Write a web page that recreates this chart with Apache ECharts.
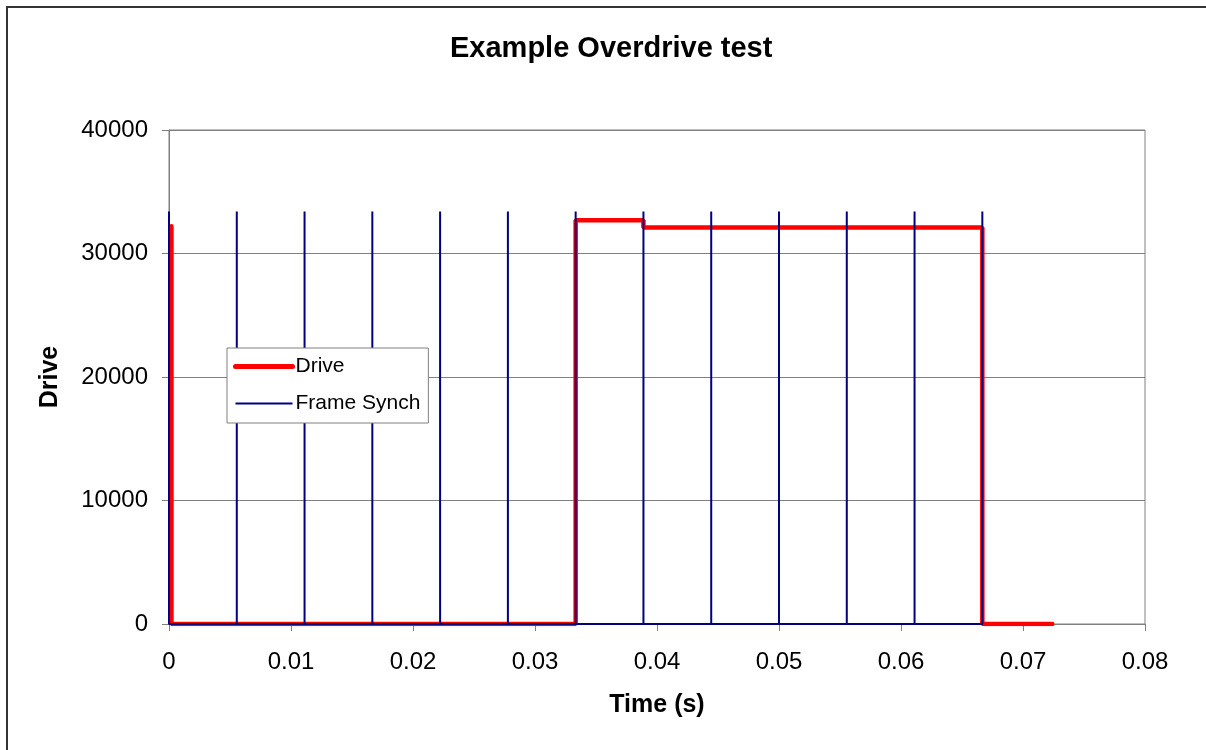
<!DOCTYPE html>
<html>
<head>
<meta charset="utf-8">
<script src="https://cdn.jsdelivr.net/npm/echarts@6/dist/echarts.min.js"></script>
<style>
  html, body { margin: 0; padding: 0; background: #fff; }
  #chart { width: 1206px; height: 750px; }
</style>
</head>
<body>
<div id="chart"></div>
<script>
// frame synch pulses, one per frame (180 Hz)
const frameTimes = [0, 0.005556, 0.011111, 0.016667, 0.022222, 0.027778, 0.033333,
  0.038889, 0.044444, 0.05, 0.055556, 0.061111, 0.066667]
const pulseHeight = 33400

// drive level steps
const driveTimes = [0.0002, 0.0002, 0.033333, 0.033333, 0.038889, 0.038889, 0.066667, 0.066667, 0.0724]
const driveValues = [32200, 0, 0, 32700, 32700, 32100, 32100, 0, 0]

const xTicks = [0, 0.01, 0.02, 0.03, 0.04, 0.05, 0.06, 0.07, 0.08]
const yTicks = [0, 10000, 20000, 30000, 40000]

const font = "'Liberation Sans', Arial, sans-serif"

const synchData = []
frameTimes.forEach(t => {
  synchData.push([t, 0], [t, pulseHeight], [t, 0])
})
const driveData = driveTimes.map((t, i) => [t, driveValues[i]])

const chart = echarts.init(document.getElementById('chart'))

chart.setOption({
  animation: false,
  backgroundColor: '#fff',
  title: {
    text: 'Example Overdrive test',
    left: 445,
    top: 29,
    textStyle: { fontFamily: font, fontSize: 29, fontWeight: 'bold', color: '#000' }
  },
  graphic: [{
    type: 'rect',
    shape: { x: 7, y: 7, width: 1400, height: 900 },
    style: { fill: 'none', stroke: '#333', lineWidth: 2 },
    silent: true
  }],
  legend: {
    orient: 'vertical',
    left: 227,
    top: 348,
    padding: [8, 8, 9, 6],
    itemWidth: 57,
    itemHeight: 14,
    itemGap: 16,
    backgroundColor: '#fff',
    borderColor: '#808080',
    borderWidth: 1,
    borderRadius: 0,
    itemStyle: { opacity: 0 },
    textStyle: { fontFamily: font, fontSize: 21, color: '#000', lineHeight: 21, padding: [0, 0, 0, -2] },
    data: [
      { name: 'Drive', lineStyle: { width: 5, cap: 'round' } },
      { name: 'Frame Synch', lineStyle: { width: 2 } }
    ]
  },
  grid: {
    left: 169,
    right: 61,
    top: 130,
    bottom: 126,
    show: true,
    borderColor: '#808080',
    borderWidth: 1
  },
  xAxis: {
    type: 'value',
    min: xTicks[0],
    max: xTicks[xTicks.length - 1],
    interval: 0.01,
    name: 'Time (s)',
    nameLocation: 'middle',
    nameGap: 69,
    nameTextStyle: { fontFamily: font, fontSize: 25, fontWeight: 'bold', color: '#000' },
    axisLine: { lineStyle: { color: '#808080', width: 1 } },
    axisTick: { show: true, length: 7, lineStyle: { color: '#808080' } },
    axisLabel: {
      margin: 26,
      fontFamily: font, fontSize: 24, color: '#000',
      formatter: v => String(+v.toFixed(2))
    },
    splitLine: { show: false }
  },
  yAxis: {
    type: 'value',
    min: yTicks[0],
    max: yTicks[yTicks.length - 1],
    interval: 10000,
    name: 'Drive',
    nameLocation: 'middle',
    nameGap: 106,
    nameTextStyle: { fontFamily: font, fontSize: 25, fontWeight: 'bold', color: '#000' },
    axisLine: { show: true, lineStyle: { color: '#808080', width: 1 } },
    axisTick: { show: true, length: 7, lineStyle: { color: '#808080' } },
    axisLabel: {
      margin: 21, fontFamily: font, fontSize: 24, color: '#000',
      formatter: v => String(v)
    },
    splitLine: { show: true, lineStyle: { color: '#808080', width: 1 } }
  },
  series: [
    {
      name: 'Drive',
      type: 'line',
      data: driveData,
      symbol: 'none',
      lineStyle: { color: '#ff0000', width: 4.5, cap: 'round' },
      itemStyle: { color: '#ff0000' },
      z: 2
    },
    {
      name: 'Frame Synch',
      type: 'line',
      data: synchData,
      symbol: 'none',
      lineStyle: { color: '#000080', width: 2 },
      itemStyle: { color: '#000080' },
      z: 3
    }
  ]
})
</script>
</body>
</html>
